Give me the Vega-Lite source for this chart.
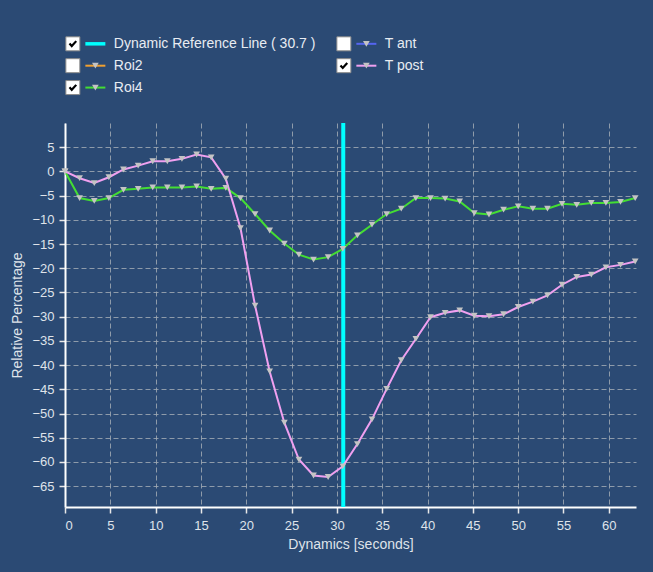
{
  "$schema": "https://vega.github.io/schema/vega-lite/v6.json",
  "background": "#2b4a74",
  "padding": {"left": 10, "top": 30, "right": 20, "bottom": 25},
  "spacing": 21,
  "config": {
    "view": {"stroke": null},
    "font": "Liberation Sans",
    "axis": {
      "domainColor": "#ffffff", "domainWidth": 2,
      "tickColor": "#e8e8e8", "tickWidth": 1.5, "labelColor": "#dfe3ea", "titleColor": "#dfe3ea",
      "labelFont": "Liberation Sans", "titleFont": "Liberation Sans",
      "labelFontSize": 13, "titleFontSize": 14, "titleFontWeight": "normal",
      "gridColor": "#a0a9b4", "gridDash": [5, 3], "gridOpacity": 0.85, "gridWidth": 1,
      "labelOverlap": false
    }
  },
  "datasets": {
    "legend": [
      {"name": "Dynamic Reference Line ( 30.7 )", "label": "\u00a0Dynamic Reference Line ( 30.7 )", "col": 1, "row": 1, "checked": true, "marker": false},
      {"name": "Roi2", "label": "Roi2", "col": 1, "row": 2, "checked": false, "marker": true},
      {"name": "Roi4", "label": "Roi4", "col": 1, "row": 3, "checked": true, "marker": true},
      {"name": "T ant", "label": "T ant", "col": 2, "row": 1, "checked": false, "marker": true},
      {"name": "T post", "label": "T post", "col": 2, "row": 2, "checked": true, "marker": true}
    ],
    "ref": [{"name": "Dynamic Reference Line ( 30.7 )", "t": 30.7}],
    "series": [
      {"s": "Roi4", "t": 0, "v": 0},
      {"s": "Roi4", "t": 1.61, "v": -5.5},
      {"s": "Roi4", "t": 3.23, "v": -6.1},
      {"s": "Roi4", "t": 4.84, "v": -5.5},
      {"s": "Roi4", "t": 6.45, "v": -3.8},
      {"s": "Roi4", "t": 8.07, "v": -3.6},
      {"s": "Roi4", "t": 9.68, "v": -3.3},
      {"s": "Roi4", "t": 11.29, "v": -3.3},
      {"s": "Roi4", "t": 12.9, "v": -3.3},
      {"s": "Roi4", "t": 14.52, "v": -3.1},
      {"s": "Roi4", "t": 16.13, "v": -3.6},
      {"s": "Roi4", "t": 17.74, "v": -3.4},
      {"s": "Roi4", "t": 19.36, "v": -5.5},
      {"s": "Roi4", "t": 20.97, "v": -8.8},
      {"s": "Roi4", "t": 22.58, "v": -12.2},
      {"s": "Roi4", "t": 24.2, "v": -14.9},
      {"s": "Roi4", "t": 25.81, "v": -17.2},
      {"s": "Roi4", "t": 27.42, "v": -18.2},
      {"s": "Roi4", "t": 29.03, "v": -17.7},
      {"s": "Roi4", "t": 30.65, "v": -16.0},
      {"s": "Roi4", "t": 32.26, "v": -13.2},
      {"s": "Roi4", "t": 33.87, "v": -11.0},
      {"s": "Roi4", "t": 35.49, "v": -8.8},
      {"s": "Roi4", "t": 37.1, "v": -7.7},
      {"s": "Roi4", "t": 38.71, "v": -5.5},
      {"s": "Roi4", "t": 40.33, "v": -5.5},
      {"s": "Roi4", "t": 41.94, "v": -5.6},
      {"s": "Roi4", "t": 43.55, "v": -6.2},
      {"s": "Roi4", "t": 45.16, "v": -8.6},
      {"s": "Roi4", "t": 46.78, "v": -8.9},
      {"s": "Roi4", "t": 48.39, "v": -7.9},
      {"s": "Roi4", "t": 50.0, "v": -7.2},
      {"s": "Roi4", "t": 51.62, "v": -7.7},
      {"s": "Roi4", "t": 53.23, "v": -7.7},
      {"s": "Roi4", "t": 54.84, "v": -6.7},
      {"s": "Roi4", "t": 56.46, "v": -6.9},
      {"s": "Roi4", "t": 58.07, "v": -6.5},
      {"s": "Roi4", "t": 59.68, "v": -6.5},
      {"s": "Roi4", "t": 61.29, "v": -6.3},
      {"s": "Roi4", "t": 62.91, "v": -5.5},
      {"s": "T post", "t": 0, "v": 0},
      {"s": "T post", "t": 1.61, "v": -1.4},
      {"s": "T post", "t": 3.23, "v": -2.4},
      {"s": "T post", "t": 4.84, "v": -1.2},
      {"s": "T post", "t": 6.45, "v": 0.4},
      {"s": "T post", "t": 8.07, "v": 1.2},
      {"s": "T post", "t": 9.68, "v": 2.1},
      {"s": "T post", "t": 11.29, "v": 2.1},
      {"s": "T post", "t": 12.9, "v": 2.6},
      {"s": "T post", "t": 14.52, "v": 3.5},
      {"s": "T post", "t": 16.13, "v": 2.9},
      {"s": "T post", "t": 17.74, "v": -1.5},
      {"s": "T post", "t": 19.36, "v": -11.7},
      {"s": "T post", "t": 20.97, "v": -27.7},
      {"s": "T post", "t": 22.58, "v": -41.3},
      {"s": "T post", "t": 24.2, "v": -51.9},
      {"s": "T post", "t": 25.81, "v": -59.5},
      {"s": "T post", "t": 27.42, "v": -62.8},
      {"s": "T post", "t": 29.03, "v": -63.1},
      {"s": "T post", "t": 30.65, "v": -60.9},
      {"s": "T post", "t": 32.26, "v": -56.3},
      {"s": "T post", "t": 33.87, "v": -51.2},
      {"s": "T post", "t": 35.49, "v": -44.9},
      {"s": "T post", "t": 37.1, "v": -39.0},
      {"s": "T post", "t": 38.71, "v": -34.6},
      {"s": "T post", "t": 40.33, "v": -30.1},
      {"s": "T post", "t": 41.94, "v": -29.2},
      {"s": "T post", "t": 43.55, "v": -28.7},
      {"s": "T post", "t": 45.16, "v": -29.8},
      {"s": "T post", "t": 46.78, "v": -29.9},
      {"s": "T post", "t": 48.39, "v": -29.5},
      {"s": "T post", "t": 50.0, "v": -28.0},
      {"s": "T post", "t": 51.62, "v": -26.9},
      {"s": "T post", "t": 53.23, "v": -25.6},
      {"s": "T post", "t": 54.84, "v": -23.4},
      {"s": "T post", "t": 56.46, "v": -21.8},
      {"s": "T post", "t": 58.07, "v": -21.3},
      {"s": "T post", "t": 59.68, "v": -19.8},
      {"s": "T post", "t": 61.29, "v": -19.3},
      {"s": "T post", "t": 62.91, "v": -18.6}
    ]
  },
  "vconcat": [
    {
      "width": 571,
      "height": 70,
      "data": {"name": "legend"},
      "encoding": {
        "x": {"field": "col", "type": "quantitative", "scale": {"domain": [0.971, 3.078], "nice": false, "zero": false}, "axis": null},
        "y": {"field": "row", "type": "quantitative", "scale": {"domain": [0.368, 3.568], "nice": false, "zero": false, "reverse": true}, "axis": null}
      },
      "layer": [
        {"mark": {"type": "point", "shape": "square", "size": 196, "filled": true, "fill": "#ffffff", "stroke": "#8a8a8a", "strokeWidth": 1, "opacity": 1}},
        {"transform": [{"filter": "datum.checked"}],
         "mark": {"type": "point", "shape": "M-0.75,-0.05L-0.25,0.5L0.75,-0.6", "size": 81, "filled": false, "stroke": "#000000", "strokeWidth": 2.2, "opacity": 1}},
        {"transform": [{"filter": "datum.marker"}],
         "mark": {"type": "point", "shape": "M-1,0L1,0", "size": 400, "filled": false, "strokeWidth": 2, "xOffset": 22.5, "opacity": 1},
         "encoding": {"stroke": {"field": "name", "type": "nominal", "legend": null, "scale": {"domain": ["Dynamic Reference Line ( 30.7 )", "Roi2", "Roi4", "T ant", "T post"], "range": ["#00ffff", "#f0a030", "#44dd33", "#5565f0", "#f0a0f0"]}}}},
        {"transform": [{"filter": "!datum.marker"}],
         "mark": {"type": "point", "shape": "M-1,0L1,0", "size": 400, "filled": false, "strokeWidth": 3.5, "xOffset": 22.5, "opacity": 1},
         "encoding": {"stroke": {"field": "name", "type": "nominal", "legend": null, "scale": {"domain": ["Dynamic Reference Line ( 30.7 )", "Roi2", "Roi4", "T ant", "T post"], "range": ["#00ffff", "#f0a030", "#44dd33", "#5565f0", "#f0a0f0"]}}}},
        {"transform": [{"filter": "datum.marker"}],
         "mark": {"type": "point", "shape": "triangle-down", "size": 45, "filled": true, "fill": "#c4c4c4", "xOffset": 22.5, "opacity": 1}},
        {"mark": {"type": "text", "align": "left", "baseline": "middle", "fontSize": 14, "font": "Liberation Sans", "fill": "#e8ecf2", "xOffset": 41},
         "encoding": {"text": {"field": "label"}}}
      ]
    },
    {
      "width": 571,
      "height": 384,
      "encoding": {
        "x": {"field": "t", "type": "quantitative", "scale": {"domain": [0, 63.0], "nice": false, "zero": false},
              "axis": {"title": "Dynamics [seconds]", "values": [0, 5, 10, 15, 20, 25, 30, 35, 40, 45, 50, 55, 60], "tickSize": 6, "labelPadding": 6, "titlePadding": 5, "grid": true}}
      },
      "layer": [
        {"data": {"name": "ref"},
         "mark": {"type": "rule", "strokeWidth": 4, "color": "#00ffff"},
         "encoding": {}},
        {"data": {"name": "series"},
         "mark": {"type": "line", "strokeWidth": 2},
         "encoding": {
           "y": {"field": "v", "type": "quantitative", "scale": {"domain": [-69.3, 10], "nice": false, "zero": false},
                 "axis": {"title": "Relative Percentage", "values": [-65, -60, -55, -50, -45, -40, -35, -30, -25, -20, -15, -10, -5, 0, 5], "tickSize": 6, "labelPadding": 5, "titlePadding": 7, "grid": true, "labelOverlap": false}},
           "color": {"field": "s", "type": "nominal", "legend": null, "scale": {"domain": ["Dynamic Reference Line ( 30.7 )", "Roi2", "Roi4", "T ant", "T post"], "range": ["#00ffff", "#f0a030", "#44dd33", "#5565f0", "#f0a0f0"]}},
           "detail": {"field": "s"}
         }},
        {"data": {"name": "series"},
         "mark": {"type": "point", "shape": "triangle-down", "size": 45, "filled": true, "fill": "#c4c4c4", "opacity": 1},
         "encoding": {"y": {"field": "v", "type": "quantitative",
                 "axis": {"title": "Relative Percentage", "values": [-65, -60, -55, -50, -45, -40, -35, -30, -25, -20, -15, -10, -5, 0, 5], "tickSize": 6, "labelPadding": 5, "titlePadding": 7, "grid": true, "labelOverlap": false}}}}
      ]
    }
  ]
}
